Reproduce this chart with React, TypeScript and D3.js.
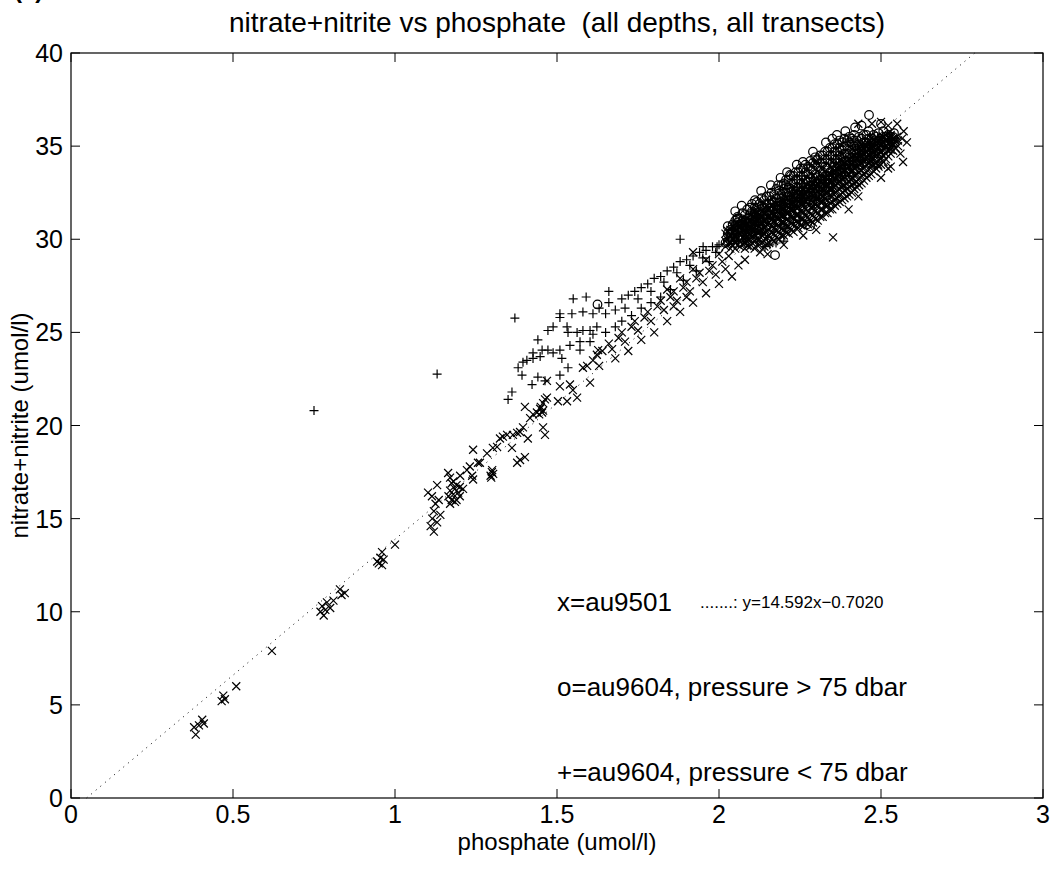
import React from 'react';
import * as d3 from 'd3';

// axis ticks
const xTicks = [0, 0.5, 1, 1.5, 2, 2.5, 3];
const yTicks = [0, 5, 10, 15, 20, 25, 30, 35, 40];

// regression line y = a*x + b
const fitSlope = 14.592;
const fitIntercept = -0.702;

// au9501 (x markers), scattered points
const au9501 = [
  [0.38, 3.8], [0.385, 3.4], [0.395, 3.9], [0.405, 4.2], [0.41, 4.0],
  [0.465, 5.2], [0.47, 5.5], [0.475, 5.3], [0.51, 6.0], [0.62, 7.9],
  [0.77, 10.0], [0.775, 10.3], [0.785, 10.1], [0.79, 10.5], [0.8, 10.2], [0.81, 10.6], [0.78, 9.8],
  [0.83, 11.2], [0.835, 10.9], [0.845, 11.0],
  [0.95, 12.6], [0.955, 12.9], [0.96, 13.2], [0.96, 12.5], [0.965, 12.8], [0.945, 12.7],
  [1.0, 13.6],
  [1.11, 14.6], [1.115, 15.0], [1.12, 15.4], [1.125, 15.8], [1.13, 14.8], [1.14, 15.2], [1.12, 14.3], [1.135, 16.0],
  [1.102, 16.4], [1.114, 16.2], [1.13, 16.8],
  [1.165, 16.2], [1.17, 16.5], [1.175, 16.9], [1.18, 16.3], [1.185, 16.6], [1.19, 16.0], [1.19, 16.8],
  [1.195, 16.4], [1.2, 16.7], [1.18, 17.0], [1.175, 16.0], [1.2, 16.2], [1.21, 16.6], [1.17, 15.8], [1.185, 15.9],
  [1.164, 17.45], [1.17, 17.2], [1.201, 17.3], [1.222, 17.6], [1.231, 17.8], [1.241, 17.1], [1.238, 17.3],
  [1.241, 18.7], [1.256, 18.0], [1.262, 18.0],
  [1.295, 17.3], [1.299, 17.5], [1.303, 17.4], [1.3, 17.6], [1.297, 17.2],
  [1.284, 18.5], [1.302, 18.8], [1.315, 18.85], [1.361, 18.8],
  [1.324, 19.3], [1.333, 19.4], [1.346, 19.5], [1.364, 19.5], [1.377, 19.6], [1.386, 19.65], [1.395, 19.9],
  [1.377, 18.0], [1.386, 18.15], [1.401, 18.3], [1.41, 19.3],
  [1.417, 20.4], [1.426, 20.6], [1.438, 20.7], [1.448, 20.9], [1.457, 21.2], [1.463, 21.4], [1.469, 21.5],
  [1.454, 20.7], [1.457, 20.8], [1.445, 20.6], [1.45, 21.0], [1.457, 19.9], [1.463, 19.5], [1.401, 21.0],
  [1.503, 21.3], [1.531, 21.3], [1.562, 21.5], [1.549, 21.9], [1.54, 22.2], [1.509, 22.1], [1.602, 22.3], [1.469, 22.4],
  [1.58, 23.1], [1.593, 23.2], [1.611, 23.5], [1.623, 23.8], [1.627, 24.05],
  [1.64, 24.0], [1.66, 24.4], [1.67, 24.1], [1.69, 24.7], [1.7, 25.0], [1.71, 24.5], [1.73, 25.3], [1.74, 25.6],
  [1.75, 25.1], [1.77, 25.8], [1.78, 26.1], [1.79, 25.6], [1.81, 26.4], [1.82, 26.7], [1.83, 26.2], [1.85, 26.9],
  [1.86, 27.2], [1.87, 26.7], [1.89, 27.4], [1.9, 27.7], [1.91, 27.2], [1.93, 27.9], [1.94, 28.2], [1.95, 27.7],
  [1.97, 28.3], [1.98, 28.6], [1.99, 28.1], [2.01, 28.8], [2.02, 28.4],
  [1.63, 23.2], [1.68, 23.6], [1.72, 24.0], [1.76, 24.6], [1.8, 25.0], [1.84, 25.6], [1.88, 26.1], [1.92, 26.6],
  [1.96, 27.1], [2.0, 27.6], [2.04, 28.0], [2.06, 28.6], [2.08, 28.9],
  [1.84, 27.3], [1.88, 27.9], [1.92, 28.4], [1.96, 28.9], [2.0, 29.2], [2.03, 29.1], [1.86, 26.4], [1.9, 26.9],
  [1.92, 29.3], [2.127, 29.3], [2.352, 30.1],
  [2.472, 36.2], [2.522, 36.1], [2.528, 35.75], [2.549, 35.5], [2.565, 35.4], [2.491, 34.0], [2.522, 33.8], [2.568, 34.15],
  [2.15, 29.2], [2.2, 29.7], [2.26, 30.2], [2.3, 30.5], [2.4, 31.6], [2.43, 32.3], [2.5, 33.3], [2.53, 33.9],
  [2.56, 34.6], [2.58, 35.2], [2.57, 35.8], [2.55, 36.2], [2.5, 36.3], [2.43, 36.2],
];

// au9501 dense cloud, one row per phosphate column: [x, y, y, ...]
const au9501Cloud = [
  [2.02, 29.6, 29.9, 30.3], [2.035, 29.5, 29.8, 30.2, 30.5], [2.05, 29.5, 29.9, 30.2, 30.6],
  [2.065, 29.6, 29.9, 30.3, 30.7], [2.08, 29.5, 29.8, 30.2, 30.5, 30.9], [2.095, 29.6, 30.0, 30.3, 30.7, 31.0],
  [2.11, 29.5, 29.9, 30.2, 30.6, 30.9, 31.2], [2.125, 29.7, 30.0, 30.4, 30.7, 31.1, 31.3],
  [2.14, 29.6, 29.9, 30.3, 30.6, 31.0, 31.4], [2.155, 29.8, 30.2, 30.5, 30.9, 31.2, 31.6],
  [2.17, 29.9, 30.3, 30.6, 31.0, 31.3, 31.7], [2.185, 30.0, 30.4, 30.7, 31.1, 31.4, 31.8],
  [2.2, 30.2, 30.5, 30.9, 31.2, 31.6, 32.0], [2.215, 30.3, 30.7, 31.0, 31.4, 31.7, 32.1],
  [2.23, 30.4, 30.8, 31.1, 31.5, 31.9, 32.3], [2.245, 30.6, 30.9, 31.3, 31.7, 32.0, 32.4],
  [2.26, 30.7, 31.1, 31.4, 31.8, 32.2, 32.6], [2.275, 30.8, 31.2, 31.5, 31.9, 32.3, 32.7],
  [2.29, 30.9, 31.3, 31.7, 32.0, 32.4, 32.9], [2.305, 31.0, 31.4, 31.8, 32.2, 32.6, 33.0],
  [2.32, 31.2, 31.6, 32.0, 32.3, 32.7, 33.2], [2.335, 31.4, 31.8, 32.1, 32.5, 32.9, 33.4],
  [2.35, 31.6, 32.0, 32.3, 32.7, 33.1, 33.6], [2.365, 31.9, 32.2, 32.6, 33.0, 33.4, 33.8],
  [2.38, 32.1, 32.5, 32.8, 33.2, 33.6, 34.0], [2.395, 32.3, 32.7, 33.0, 33.4, 33.8, 34.2],
  [2.41, 32.5, 32.9, 33.2, 33.6, 34.0, 34.4], [2.425, 32.8, 33.1, 33.5, 33.9, 34.3, 34.6],
  [2.44, 33.0, 33.4, 33.7, 34.1, 34.5, 34.8], [2.455, 33.3, 33.6, 34.0, 34.4, 34.7, 35.0],
  [2.47, 33.5, 33.9, 34.2, 34.6, 34.9, 35.2], [2.485, 33.8, 34.1, 34.5, 34.8, 35.2, 35.5],
  [2.5, 34.0, 34.4, 34.7, 35.1, 35.4], [2.515, 34.3, 34.6, 35.0, 35.3, 35.6],
  [2.53, 34.6, 35.0, 35.3, 35.6], [2.545, 34.9, 35.3],
  [2.0275, 29.75, 30.1, 30.45], [2.0425, 29.65, 30.0, 30.35, 30.7], [2.0575, 29.7, 30.05, 30.4, 30.8],
  [2.0725, 29.75, 30.1, 30.5, 30.9], [2.0875, 29.65, 30.0, 30.35, 30.7, 31.1], [2.1025, 29.8, 30.15, 30.5, 30.85, 31.2],
  [2.1175, 29.7, 30.05, 30.4, 30.75, 31.05, 31.4], [2.1325, 29.85, 30.2, 30.55, 30.9, 31.2, 31.5],
  [2.1475, 29.75, 30.1, 30.45, 30.8, 31.2, 31.6], [2.1625, 30.0, 30.35, 30.7, 31.05, 31.4, 31.8],
  [2.1775, 30.1, 30.45, 30.8, 31.15, 31.5, 31.9], [2.1925, 30.2, 30.55, 30.9, 31.25, 31.6, 32.0],
  [2.2075, 30.35, 30.7, 31.05, 31.4, 31.8, 32.2], [2.2225, 30.5, 30.85, 31.2, 31.55, 31.9, 32.3],
  [2.2375, 30.6, 30.95, 31.3, 31.7, 32.1, 32.5], [2.2525, 30.75, 31.1, 31.5, 31.85, 32.2, 32.6],
  [2.2675, 30.9, 31.25, 31.6, 32.0, 32.4, 32.8], [2.2825, 31.0, 31.35, 31.7, 32.1, 32.5, 32.9],
  [2.2975, 31.1, 31.5, 31.85, 32.2, 32.65, 33.1], [2.3125, 31.2, 31.6, 32.0, 32.4, 32.8, 33.2],
  [2.3275, 31.4, 31.8, 32.15, 32.5, 32.9, 33.35], [2.3425, 31.6, 31.95, 32.3, 32.7, 33.1, 33.5],
  [2.3575, 31.8, 32.15, 32.5, 32.9, 33.3, 33.7], [2.3725, 32.0, 32.35, 32.7, 33.1, 33.5, 33.9],
  [2.3875, 32.2, 32.6, 32.9, 33.3, 33.7, 34.1], [2.4025, 32.4, 32.8, 33.1, 33.5, 33.9, 34.3],
  [2.4175, 32.7, 33.0, 33.4, 33.8, 34.2, 34.5], [2.4325, 32.9, 33.25, 33.6, 34.0, 34.4, 34.7],
  [2.4475, 33.15, 33.5, 33.85, 34.25, 34.6, 34.9], [2.4625, 33.4, 33.75, 34.1, 34.5, 34.8, 35.1],
  [2.4775, 33.65, 34.0, 34.35, 34.7, 35.05, 35.35], [2.4925, 33.9, 34.25, 34.6, 34.95, 35.3],
  [2.5075, 34.15, 34.5, 34.85, 35.2, 35.5], [2.5225, 34.45, 34.8, 35.15, 35.45],
  [2.5375, 34.75, 35.1, 35.4], [2.5525, 35.0, 35.3],
  [2.05, 29.8, 30.1, 30.45, 30.8], [2.08, 30.0, 30.35, 30.7, 31.05], [2.11, 30.1, 30.45, 30.8, 31.15, 31.5],
  [2.14, 30.3, 30.65, 31.0, 31.35, 31.7], [2.17, 30.6, 30.95, 31.3, 31.65, 32.0], [2.2, 30.9, 31.3, 31.65, 32.0, 32.4],
  [2.23, 31.2, 31.6, 31.95, 32.3, 32.7], [2.26, 31.5, 31.9, 32.3, 32.7, 33.1], [2.29, 31.8, 32.2, 32.6, 33.0, 33.4],
  [2.32, 32.1, 32.5, 32.95, 33.35, 33.75], [2.35, 32.5, 32.9, 33.35, 33.75, 34.15], [2.38, 32.9, 33.3, 33.75, 34.15, 34.55],
  [2.41, 33.3, 33.7, 34.05, 34.45, 34.85], [2.44, 33.7, 34.05, 34.4, 34.75, 35.1], [2.47, 34.0, 34.35, 34.7, 35.05, 35.4],
  [2.5, 34.3, 34.65, 35.0, 35.3], [2.53, 34.8, 35.15, 35.5],
];

// au9604, pressure > 75 dbar (o markers)
const au9604Deep = [
  [2.463, 36.67], [2.54, 35.7], [2.272, 30.8], [2.281, 30.7], [2.173, 29.15], [2.056, 31.1], [2.111, 32.1],
  [2.182, 32.9], [2.219, 33.45], [2.259, 34.15], [2.302, 34.25], [2.364, 35.6], [1.625, 26.5],
  [2.02, 29.8], [2.04, 30.3],
  [2.07, 31.8], [2.13, 32.6], [2.19, 33.3], [2.24, 34.0], [2.29, 34.7], [2.33, 35.2], [2.39, 35.8],
  [2.44, 36.1], [2.16, 32.9], [2.21, 33.6], [2.05, 31.5], [2.35, 35.4], [2.42, 36.0], [2.5, 36.2],
];

const au9604DeepCloud = [
  [2.027, 29.9, 30.3, 30.7], [2.042, 30.0, 30.4, 30.8], [2.057, 30.1, 30.5, 30.9, 31.2],
  [2.072, 30.2, 30.6, 31.0, 31.4], [2.087, 30.3, 30.7, 31.1, 31.6], [2.102, 30.4, 30.8, 31.2, 31.5, 31.9],
  [2.117, 30.5, 30.9, 31.3, 31.7, 32.0], [2.132, 30.6, 31.0, 31.4, 31.8, 32.2],
  [2.147, 30.7, 31.1, 31.5, 31.9, 32.3], [2.162, 30.9, 31.3, 31.7, 32.1, 32.5],
  [2.177, 31.0, 31.4, 31.8, 32.2, 32.7], [2.192, 31.2, 31.6, 32.0, 32.4, 32.9],
  [2.207, 31.3, 31.7, 32.1, 32.5, 32.9, 33.2], [2.222, 31.5, 31.9, 32.3, 32.7, 33.0, 33.4],
  [2.237, 31.6, 32.0, 32.4, 32.8, 33.2, 33.6], [2.252, 31.8, 32.2, 32.6, 33.0, 33.4, 33.8],
  [2.267, 32.0, 32.4, 32.8, 33.2, 33.6, 34.0], [2.282, 32.1, 32.5, 32.9, 33.3, 33.8, 34.2],
  [2.297, 32.3, 32.7, 33.1, 33.5, 34.0, 34.4], [2.312, 32.4, 32.8, 33.2, 33.7, 34.1, 34.5],
  [2.327, 32.6, 33.0, 33.4, 33.9, 34.3, 34.7], [2.342, 32.8, 33.2, 33.6, 34.1, 34.5, 34.9],
  [2.357, 33.1, 33.5, 33.9, 34.3, 34.7, 35.1], [2.372, 33.3, 33.7, 34.1, 34.5, 34.9, 35.3],
  [2.387, 33.4, 33.8, 34.2, 34.6, 35.0, 35.4], [2.402, 33.6, 34.0, 34.4, 34.8, 35.2, 35.5],
  [2.417, 33.8, 34.2, 34.6, 35.0, 35.3, 35.6], [2.432, 34.0, 34.4, 34.8, 35.1, 35.5],
  [2.447, 34.1, 34.5, 34.9, 35.2, 35.6], [2.462, 34.3, 34.7, 35.0, 35.4, 35.8],
  [2.477, 34.5, 34.9, 35.2, 35.6], [2.492, 34.6, 35.0, 35.3, 35.7],
  [2.507, 34.8, 35.2, 35.5, 35.8], [2.522, 35.0, 35.3, 35.6], [2.537, 35.2, 35.5],
  [2.035, 30.1, 30.5], [2.05, 30.3, 30.7, 31.0], [2.065, 30.4, 30.8, 31.1], [2.08, 30.5, 30.9, 31.3],
  [2.095, 30.5, 30.9, 31.35, 31.7], [2.11, 30.6, 31.0, 31.4, 31.7], [2.125, 30.7, 31.1, 31.5, 31.9],
  [2.14, 30.9, 31.3, 31.7, 32.1], [2.155, 31.0, 31.5, 31.9, 32.3], [2.17, 31.2, 31.6, 32.0, 32.4],
  [2.185, 31.4, 31.8, 32.2, 32.6], [2.2, 31.5, 31.9, 32.3, 32.7, 33.0], [2.215, 31.7, 32.1, 32.5, 32.8, 33.2],
  [2.23, 31.8, 32.2, 32.6, 33.0, 33.4], [2.245, 32.0, 32.4, 32.8, 33.2, 33.6], [2.26, 32.2, 32.6, 33.0, 33.4, 33.8],
  [2.275, 32.3, 32.7, 33.1, 33.5, 33.9], [2.29, 32.5, 32.9, 33.3, 33.7, 34.1], [2.305, 32.6, 33.0, 33.4, 33.9, 34.3],
  [2.32, 32.8, 33.2, 33.6, 34.1, 34.5], [2.335, 33.0, 33.4, 33.8, 34.3, 34.7], [2.35, 33.3, 33.7, 34.1, 34.5, 34.9],
  [2.365, 33.5, 33.9, 34.3, 34.7, 35.1], [2.38, 33.6, 34.0, 34.4, 34.8, 35.2], [2.395, 33.8, 34.2, 34.6, 35.0, 35.3],
  [2.41, 34.0, 34.4, 34.8, 35.1, 35.4], [2.425, 34.2, 34.6, 35.0, 35.3], [2.44, 34.3, 34.7, 35.0, 35.4],
  [2.455, 34.5, 34.9, 35.2, 35.6], [2.47, 34.7, 35.1, 35.4], [2.485, 34.8, 35.1, 35.5],
  [2.5, 35.0, 35.4], [2.515, 35.1, 35.5],
];

// au9604, pressure < 75 dbar (+ markers)
const au9604Shallow = [
  [0.75, 20.8], [1.13, 22.76], [1.37, 25.77],
  [1.509, 26.0], [1.546, 26.0], [1.58, 26.1], [1.611, 26.0], [1.509, 25.8],
  [1.472, 25.1], [1.488, 25.3], [1.531, 25.3], [1.534, 25.0], [1.562, 25.0], [1.58, 25.1], [1.602, 25.1], [1.623, 25.3], [1.611, 24.9],
  [1.441, 24.6],
  [1.454, 24.05], [1.472, 24.05], [1.488, 23.9], [1.509, 24.05], [1.54, 24.3], [1.571, 24.05], [1.602, 24.5], [1.571, 24.5],
  [1.426, 23.9], [1.426, 23.6], [1.395, 23.4], [1.38, 23.1], [1.407, 23.5], [1.448, 23.7], [1.515, 23.6],
  [1.392, 22.7], [1.423, 22.2], [1.441, 22.6], [1.463, 22.4], [1.509, 22.7], [1.534, 23.1],
  [1.361, 21.8], [1.349, 21.4],
  [1.63, 26.3], [1.65, 26.0], [1.66, 26.6], [1.68, 26.2], [1.7, 26.8], [1.71, 26.3], [1.72, 27.0], [1.74, 27.2],
  [1.75, 26.8], [1.76, 27.4], [1.78, 27.6], [1.79, 27.2], [1.8, 27.9], [1.82, 28.0], [1.83, 27.7], [1.84, 28.3],
  [1.86, 28.5], [1.87, 28.2], [1.88, 28.8], [1.9, 28.9], [1.91, 28.6], [1.92, 29.1], [1.94, 29.3], [1.95, 29.0],
  [1.96, 29.4], [1.98, 29.6], [1.99, 29.3], [2.0, 29.7],
  [1.65, 25.0], [1.68, 25.3], [1.7, 25.6], [1.73, 25.9], [1.76, 26.3], [1.79, 26.6], [1.82, 26.9], [1.85, 27.3],
  [1.89, 27.8], [1.93, 28.3], [1.97, 28.8], [1.55, 26.8], [1.59, 26.9], [1.88, 30.0], [1.66, 27.2],
  [1.951, 29.6], [1.994, 29.6], [2.142, 29.6], [2.157, 29.7], [2.176, 29.8],
  [2.03, 29.9], [2.05, 30.1], [2.06, 29.8], [2.08, 30.0], [2.09, 29.7], [2.1, 30.4], [2.12, 29.9], [2.13, 30.3],
  [2.15, 30.1], [2.17, 30.4], [2.19, 30.7], [2.21, 30.6], [2.2, 29.9], [2.23, 30.9], [2.25, 31.0],
  [2.04, 30.6], [2.07, 31.0], [2.11, 31.4],
];

const legendLines = ['x=au9501', 'o=au9604, pressure > 75 dbar', '+=au9604, pressure < 75 dbar'];

const W = 1056;
const H = 877;
const m = { left: 71, right: 1043, top: 53, bottom: 798 };
const font = '"Liberation Sans", Arial, Helvetica, sans-serif';
const fs = 24;
const tickLen = 9;

const flattenCloud = (rows: number[][]) =>
  rows.flatMap(([x, ...ys]) => ys.map(y => [x, y]));

const xMarker = 'M-4,-4L4,4M-4,4L4,-4';
const plusMarker = 'M-4.5,0H4.5M0,-4.5V4.5';

export default function App() {
  const x = d3.scaleLinear().domain([0, 3]).range([m.left, m.right]);
  const y = d3.scaleLinear().domain([0, 40]).range([m.bottom, m.top]);

  const xs = [...au9501, ...flattenCloud(au9501Cloud)];
  const os = [...au9604Deep, ...flattenCloud(au9604DeepCloud)];

  // fit line across the visible y range
  const x0 = (0 - fitIntercept) / fitSlope;
  const x1 = (40 - fitIntercept) / fitSlope;
  const fitLine = d3.line<number>()(
    [x0, x1].map(v => [x(v), y(fitSlope * v + fitIntercept)] as [number, number])
  );

  const fmt = (v: number) => String(v);

  return (
    <svg width={W} height={H} style={{ position: 'absolute', left: 0, top: 0, background: '#fff' }}
      fontFamily={font}>
      <rect x={0} y={0} width={W} height={H} fill="#fff" />
      <text x={14} y={-2} fontSize={24} fontWeight="bold">(c)</text>

      <text x={(m.left + m.right) / 2} y={32} fontSize={28} textAnchor="middle" style={{ whiteSpace: 'pre' }}>
        {'nitrate+nitrite vs phosphate  (all depths, all transects)'}
      </text>

      {/* fit line */}
      <path d={fitLine || ''} stroke="#000" strokeWidth={1} strokeDasharray="1,5" fill="none" />

      {/* points */}
      <g stroke="#000" strokeWidth={1.2} fill="none">
        {xs.map((d, i) => (
          <path key={'x' + i} d={xMarker} transform={`translate(${x(d[0])},${y(d[1])})`} />
        ))}
        {os.map((d, i) => (
          <circle key={'o' + i} cx={x(d[0])} cy={y(d[1])} r={4.3} />
        ))}
        {au9604Shallow.map((d, i) => (
          <path key={'p' + i} d={plusMarker} transform={`translate(${x(d[0])},${y(d[1])})`} />
        ))}
      </g>

      {/* axes box */}
      <rect x={m.left} y={m.top} width={m.right - m.left} height={m.bottom - m.top}
        fill="none" stroke="#000" strokeWidth={1.2} />
      <g stroke="#000" strokeWidth={1}>
        {xTicks.map(t => (
          <g key={'xt' + t}>
            <line x1={x(t)} x2={x(t)} y1={m.bottom} y2={m.bottom - tickLen} />
            <line x1={x(t)} x2={x(t)} y1={m.top} y2={m.top + tickLen} />
          </g>
        ))}
        {yTicks.map(t => (
          <g key={'yt' + t}>
            <line x1={m.left} x2={m.left + tickLen} y1={y(t)} y2={y(t)} />
            <line x1={m.right} x2={m.right - tickLen} y1={y(t)} y2={y(t)} />
          </g>
        ))}
      </g>
      <g fontSize={25}>
        {xTicks.map(t => (
          <text key={'xl' + t} x={x(t)} y={m.bottom + 25} textAnchor="middle">{fmt(t)}</text>
        ))}
        {yTicks.map(t => (
          <text key={'yl' + t} x={m.left - 8} y={y(t) + 9} textAnchor="end">{fmt(t)}</text>
        ))}
      </g>

      <text x={(m.left + m.right) / 2} y={850} fontSize={fs} textAnchor="middle">phosphate (umol/l)</text>
      <text transform={`translate(28,${(m.top + m.bottom) / 2}) rotate(-90)`} fontSize={fs} textAnchor="middle">
        nitrate+nitrite (umol/l)
      </text>

      {/* legend notes */}
      <g fontSize={26}>
        {legendLines.map((s, i) => (
          <text key={s} x={x(1.5)} y={611 + i * 85}>{s}</text>
        ))}
      </g>
      <text x={700} y={608} fontSize={17}>{'.......: y=' + fitSlope.toFixed(3) + 'x\u2212' + Math.abs(fitIntercept).toFixed(4)}</text>
    </svg>
  );
}
